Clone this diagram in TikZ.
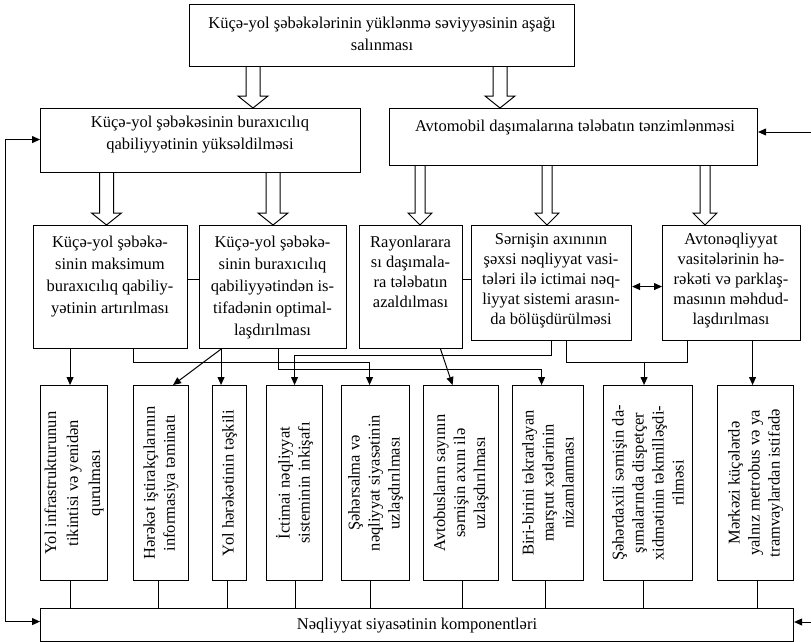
\documentclass[tikz,border=0pt]{standalone}
\usepackage{fontspec}
\setmainfont{Liberation Serif}
\usetikzlibrary{arrows.meta,calc}
\newcommand\fsA{\fontsize{16.5}{22}\selectfont}
\newcommand\fsB{\fontsize{16.5}{20}\selectfont}
\newcommand\hollowarr[5]{%
  \draw[hollow] let \p1=(#1.south), \p2=(#2.north) in
    (#3pt-#4pt,\y1) -- (#3pt-#4pt,\y2+12pt) -- (#3pt-#5pt,\y2+12pt) -- (#3pt,\y2)
    -- (#3pt+#5pt,\y2+12pt) -- (#3pt+#4pt,\y2+12pt) -- (#3pt+#4pt,\y1);}
\begin{document}
\begin{tikzpicture}[x=1pt,y=1pt,
  box/.style={draw, line width=1.1pt, inner sep=0pt, anchor=north west},
  txt/.style={align=center, inner sep=0pt, font=\fsA},
  txtb/.style={align=center, inner sep=0pt, font=\fsB},
  vtxt/.style={txtb, rotate=90},
  conn/.style={line width=1pt},
  arr/.style={conn, -{Triangle[length=8pt,width=7pt]}},
  darr/.style={conn, {Triangle[length=8pt,width=7pt]}-{Triangle[length=8pt,width=7pt]}},
  hollow/.style={draw, line width=1pt, line join=miter}]
\useasboundingbox (0,0) rectangle (811,-642);

% boxes
\node[box, minimum width=385pt, minimum height=62pt] (T) at (189,-4) {};
\node[box, minimum width=320pt, minimum height=64pt] (A) at (40,-108) {};
\node[box, minimum width=368pt, minimum height=57pt] (B) at (389,-108) {};
\node[box, minimum width=154pt, minimum height=123pt] (C1) at (33,-225) {};
\node[box, minimum width=147pt, minimum height=123pt] (C2) at (199,-225) {};
\node[box, minimum width=103pt, minimum height=123pt] (C3) at (359,-225) {};
\node[box, minimum width=160pt, minimum height=115pt] (C4) at (471,-225) {};
\node[box, minimum width=138pt, minimum height=115pt] (C5) at (662,-225) {};
\node[box, minimum width=67pt, minimum height=195pt] (D1) at (40,-385) {};
\node[box, minimum width=55pt, minimum height=195pt] (D2) at (133,-385) {};
\node[box, minimum width=34pt, minimum height=195pt] (D3) at (212,-385) {};
\node[box, minimum width=56pt, minimum height=195pt] (D4) at (266,-385) {};
\node[box, minimum width=68pt, minimum height=195pt] (D5) at (341,-385) {};
\node[box, minimum width=75pt, minimum height=195pt] (D6) at (423,-385) {};
\node[box, minimum width=71pt, minimum height=195pt] (D7) at (512,-385) {};
\node[box, minimum width=89pt, minimum height=195pt] (D8) at (603,-385) {};
\node[box, minimum width=76pt, minimum height=195pt] (D9) at (717,-385) {};
\node[box, minimum width=753pt, minimum height=33pt] (bot) at (40,-608) {};

% texts
\node[txt] (tT) at (382,-34) {Küçə-yol şəbəkələrinin yüklənmə səviyyəsinin aşağı\\salınması};
\node[txt] (tA) at (200,-135) {Küçə-yol şəbəkəsinin buraxıcılıq\\qabiliyyətinin yüksəldilməsi};
\node[txt] (tB) at (575,-128) {Avtomobil daşımalarına tələbatın tənzimlənməsi};
\node[txt] (tC1) at (110,-276.5) {Küçə-yol şəbəkə-\\sinin maksimum\\buraxıcılıq qabiliy-\\yətinin artırılması};
\node[txt] (tC2) at (272.5,-287.5) {Küçə-yol şəbəkə-\\sinin buraxıcılıq\\qabiliyyətindən is-\\tifadənin optimal-\\laşdırılması};
\node[txtb] (tC3) at (410.5,-272) {Rayonlarara\\sı daşımala-\\ra tələbatın\\azaldılması};
\node[txtb] (tC4) at (551,-281) {Sərnişin axınının\\şəxsi nəqliyyat vasi-\\tələri ilə ictimai nəq-\\liyyat sistemi arasın-\\da bölüşdürülməsi};
\node[txtb] (tC5) at (731,-281) {Avtonəqliyyat\\vasitələrinin hə-\\rəkəti və parklaş-\\masının məhdud-\\laşdırılması};
\node[vtxt, font=\fsA] (tD1) at (D1) {Yol infrastrukturunun\\tikintisi və yenidən\\qurulması};
\node[vtxt] (tD2) at (D2) {Hərəkət iştirakçılarının\\informasiya təminatı};
\node[vtxt] (tD3) at (D3) {Yol hərəkətinin təşkili};
\node[vtxt] (tD4) at (D4) {İctimai nəqliyyat\\sisteminin inkişafı};
\node[vtxt] (tD5) at (D5) {Şəhərsalma və\\nəqliyyat siyasətinin\\uzlaşdırılması};
\node[vtxt] (tD6) at (D6) {Avtobusların sayının\\sərnişin axını ilə\\uzlaşdırılması};
\node[vtxt] (tD7) at (D7) {Biri-birini təkrarlayan\\marşrut xətlərinin\\nizamlanması};
\node[vtxt] (tD8) at (D8) {Şəhərdaxili sərnişin da-\\şımalarında dispetçer\\xidmətinin təkmilləşdi-\\rilməsi};
\node[vtxt] (tD9) at (D9) {Mərkəzi küçələrdə\\yalnız metrobus və ya\\tramvaylardan istifadə};
\node[txt] (tbot) at (bot) {Nəqliyyat siyasətinin komponentləri};

% hollow arrows
\hollowarr{T}{A}{253}{7}{15}
\hollowarr{T}{B}{500}{7}{15}
\hollowarr{A}{C1}{106.5}{7}{15}
\hollowarr{A}{C2}{273}{7}{15}
\hollowarr{B}{C3}{420}{5}{12}
\hollowarr{B}{C4}{547}{5}{12}
\hollowarr{B}{C5}{705}{5}{12}

% row 3 links
\draw[conn] ([yshift=7.5pt]C1.east) -- ([yshift=7.5pt]C1.east -| C2.west);
\draw[conn] ([yshift=7.5pt]C3.east) -- ([yshift=7.5pt]C3.east -| C4.west);
\draw[darr] ([yshift=-3.5pt]C4.east) -- ([yshift=-3.5pt]C4.east -| C5.west);

% row 3 -> row 4
\draw[arr] ([xshift=-4pt]D1.north |- C1.south) -- ([xshift=-4pt]D1.north);
\draw[arr] ([xshift=23pt]C1.south) -- ++(0,-13) -| ([xshift=-6pt]D5.north);
\draw[arr] ([xshift=-52pt]C2.south) -- ([xshift=12pt]D2.north);
\draw[arr] ([xshift=-52pt]C2.south) -- ([xshift=-52pt]C2.south |- D3.north);
\draw[arr] ([xshift=5.5pt]C2.south) -- ++(0,-20) -| ([xshift=-6.5pt]D7.north);
\draw[arr] ([xshift=29.5pt]C3.south) -- ([xshift=-8.5pt]D6.north);
\draw[arr] (C4.south) -- ++(0,-14) -| (D4.north);
\draw[conn] ([xshift=15pt]C4.south) -- ++(0,-21) coordinate (j1) -| ([xshift=-44pt]C5.south);
\draw[arr] ([xshift=-4pt]D8.north |- j1) -- ([xshift=-4pt]D8.north);
\draw[arr] ([xshift=-3pt]D9.north |- C5.south) -- ([xshift=-3pt]D9.north);

% row 4 -> bottom
\draw[conn] ([xshift=-4pt]D1.south) -- ([xshift=-4pt]D1.south |- bot.north);
\draw[conn] ([xshift=-2.5pt]D2.south) -- ([xshift=-2.5pt]D2.south |- bot.north);
\draw[conn] ([xshift=-2pt]D3.south) -- ([xshift=-2pt]D3.south |- bot.north);
\draw[conn] ([xshift=1pt]D4.south) -- ([xshift=1pt]D4.south |- bot.north);
\draw[conn] ([xshift=-5pt]D5.south) -- ([xshift=-5pt]D5.south |- bot.north);
\draw[conn] ([xshift=1.5pt]D6.south) -- ([xshift=1.5pt]D6.south |- bot.north);
\draw[conn] ([xshift=-2.5pt]D7.south) -- ([xshift=-2.5pt]D7.south |- bot.north);
\draw[conn] ([xshift=-4.5pt]D8.south) -- ([xshift=-4.5pt]D8.south |- bot.north);
\draw[conn] ([xshift=2pt]D9.south) -- ([xshift=2pt]D9.south |- bot.north);

% feedback lines
\draw[darr] ([yshift=1pt]A.west) -- ++(-35,0) |- ([yshift=3.5pt]bot.west);
\coordinate (r1) at (811,-132);
\coordinate (r2) at (811,-622);
\draw[arr] (r1) -- (r1 -| B.east);
\draw[arr] (r2) -- (r2 -| bot.east);
\end{tikzpicture}
\end{document}
